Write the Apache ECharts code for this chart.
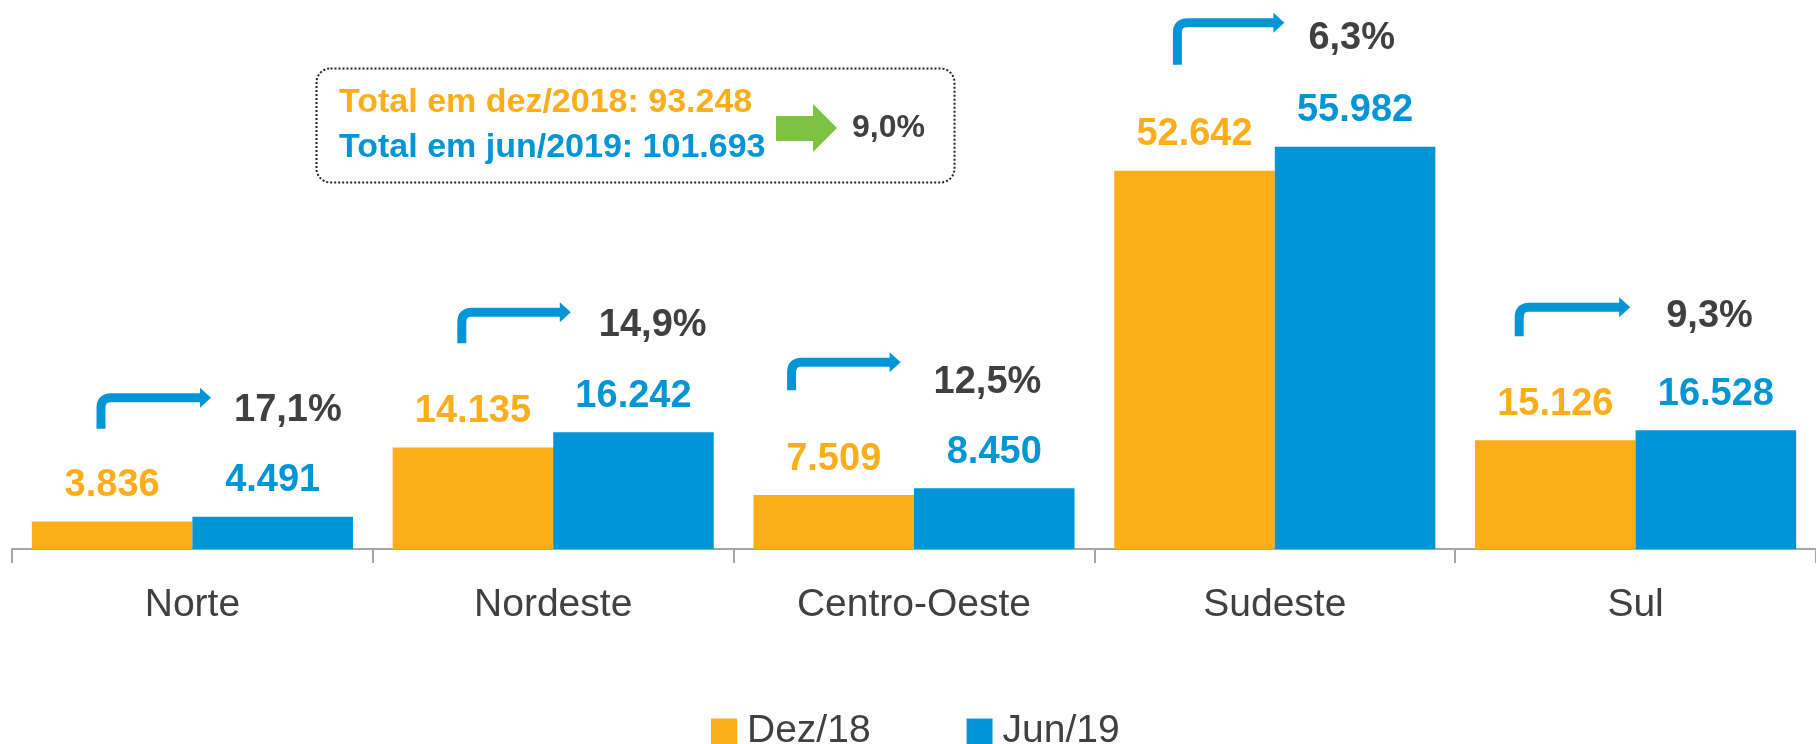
<!DOCTYPE html>
<html>
<head>
<meta charset="utf-8">
<script src="https://cdn.jsdelivr.net/npm/echarts@6/dist/echarts.min.js"></script>
<style>
html,body{margin:0;padding:0;background:#fff;}
#chart{width:1816px;height:744px;}
</style>
</head>
<body>
<div id="chart"></div>
<script>
// ---- data ----
const categories = ['Norte', 'Nordeste', 'Centro-Oeste', 'Sudeste', 'Sul'];
const dez18 = [3836, 14135, 7509, 52642, 15126];
const jun19 = [4491, 16242, 8450, 55982, 16528];
const growth = ['17,1%', '14,9%', '12,5%', '6,3%', '9,3%'];
const seriesNames = ['Dez/18', 'Jun/19'];
const totalLines = ['Total em dez/2018: 93.248', 'Total em jun/2019: 101.693'];
const totalGrowth = '9,0%';

// ---- layout (pixel offsets for the bent arrows, relative to category start / taller bar top) ----
const arrowStemX = [89, 89, 58, 83, 64];
const arrowTipX = [199, 198, 167, 190, 175];
const arrowBottomY = [-88, -89, -98, -82, -94];
const arrowTopY = [-119, -120, -126, -124, -123];
const pctTextX = [222, 226, 200, 214, 211];
const pctTextY = [-106, -107, -106, -108, -114];

const ORANGE = '#FBAE1A';
const BLUE = '#0096D6';
const GRAY = '#404040';
const FONT = '"Liberation Sans", Arial, sans-serif';

const chart = echarts.init(document.getElementById('chart'), null, {renderer: 'canvas'});

const arrowData = categories.map((c, i) => [i, Math.max(dez18[i], jun19[i])]);

const valueLabel = color => ({
  show: true, position: 'top', distance: 17,
  fontFamily: FONT, fontWeight: 'bold', fontSize: 38, color: color,
  formatter: p => p.value.toLocaleString('pt-BR')
});

const option = {
  animation: false,
  grid: {left: 12, width: 1810, top: 10, bottom: 195, containLabel: false},
  legend: {
    data: seriesNames,
    left: 706,
    top: 707,
    itemWidth: 26,
    itemHeight: 26,
    itemGap: 96,
    icon: 'rect',
    textStyle: {fontFamily: FONT, fontSize: 39, color: GRAY, padding: [0, 0, 0, 5]}
  },
  xAxis: {
    type: 'category',
    data: categories,
    axisLine: {lineStyle: {color: '#A6A6A6', width: 2}},
    axisTick: {show: true, length: 14, lineStyle: {color: '#A6A6A6', width: 2}},
    axisLabel: {fontFamily: FONT, fontSize: 39, color: GRAY, margin: 37, lineHeight: 39}
  },
  yAxis: {
    type: 'value', min: 0, max: 75000, show: false,
    splitLine: {show: false}
  },
  series: [
    {
      name: seriesNames[0], type: 'bar', data: dez18,
      barGap: 0, barCategoryGap: '11%',
      itemStyle: {color: ORANGE},
      label: valueLabel(ORANGE)
    },
    {
      name: seriesNames[1], type: 'bar', data: jun19,
      barGap: 0, barCategoryGap: '11%',
      itemStyle: {color: BLUE},
      label: valueLabel(BLUE)
    },
    {
      name: 'growth', type: 'custom', data: arrowData, z: 10,
      renderItem: function (params, api) {
        const i = api.value(0);
        const p = api.coord([i, api.value(1)]);
        const band = api.size([1, 0])[0];
        const x0 = p[0] - band / 2;
        const sx = x0 + arrowStemX[i];
        const tx = x0 + arrowTipX[i];
        const by = p[1] + arrowBottomY[i];
        const ty = p[1] + arrowTopY[i];
        const r = 10, head = 11, hh = 10;
        return {
          type: 'group',
          children: [
            {
              type: 'path',
              shape: {
                pathData: `M${sx},${by} L${sx},${ty + r} Q${sx},${ty} ${sx + r},${ty} L${tx - head + 1},${ty}`
              },
              style: {fill: 'none', stroke: BLUE, lineWidth: 9, lineCap: 'butt', lineJoin: 'miter'}
            },
            {
              type: 'polygon',
              shape: {points: [[tx - head, ty - hh], [tx, ty], [tx - head, ty + hh]]},
              style: {fill: BLUE}
            },
            {
              type: 'text',
              x: x0 + pctTextX[i], y: p[1] + pctTextY[i],
              style: {
                text: growth[i], fill: GRAY, fontFamily: FONT,
                fontWeight: 'bold', fontSize: 38, textVerticalAlign: 'middle', textAlign: 'left'
              }
            }
          ]
        };
      }
    }
  ],
  graphic: [
    {
      type: 'rect', left: 314, top: 66,
      shape: {width: 638, height: 114, r: 14},
      style: {fill: 'none', stroke: '#222', lineWidth: 2, lineDash: [2, 2]}
    },
    {
      type: 'text', left: 339, top: 86,
      style: {text: totalLines[0], fill: ORANGE, fontFamily: FONT, fontWeight: 'bold', fontSize: 34}
    },
    {
      type: 'text', left: 339, top: 131,
      style: {text: totalLines[1], fill: BLUE, fontFamily: FONT, fontWeight: 'bold', fontSize: 34}
    },
    {
      type: 'polygon',
      shape: {points: [[776, 116], [813, 116], [813, 104], [837, 128], [813, 152], [813, 141], [776, 141]]},
      style: {fill: '#7DC242'}
    },
    {
      type: 'text', left: 852, top: 112,
      style: {text: totalGrowth, fill: GRAY, fontFamily: FONT, fontWeight: 'bold', fontSize: 32}
    }
  ]
};
chart.setOption(option);
</script>
</body>
</html>
